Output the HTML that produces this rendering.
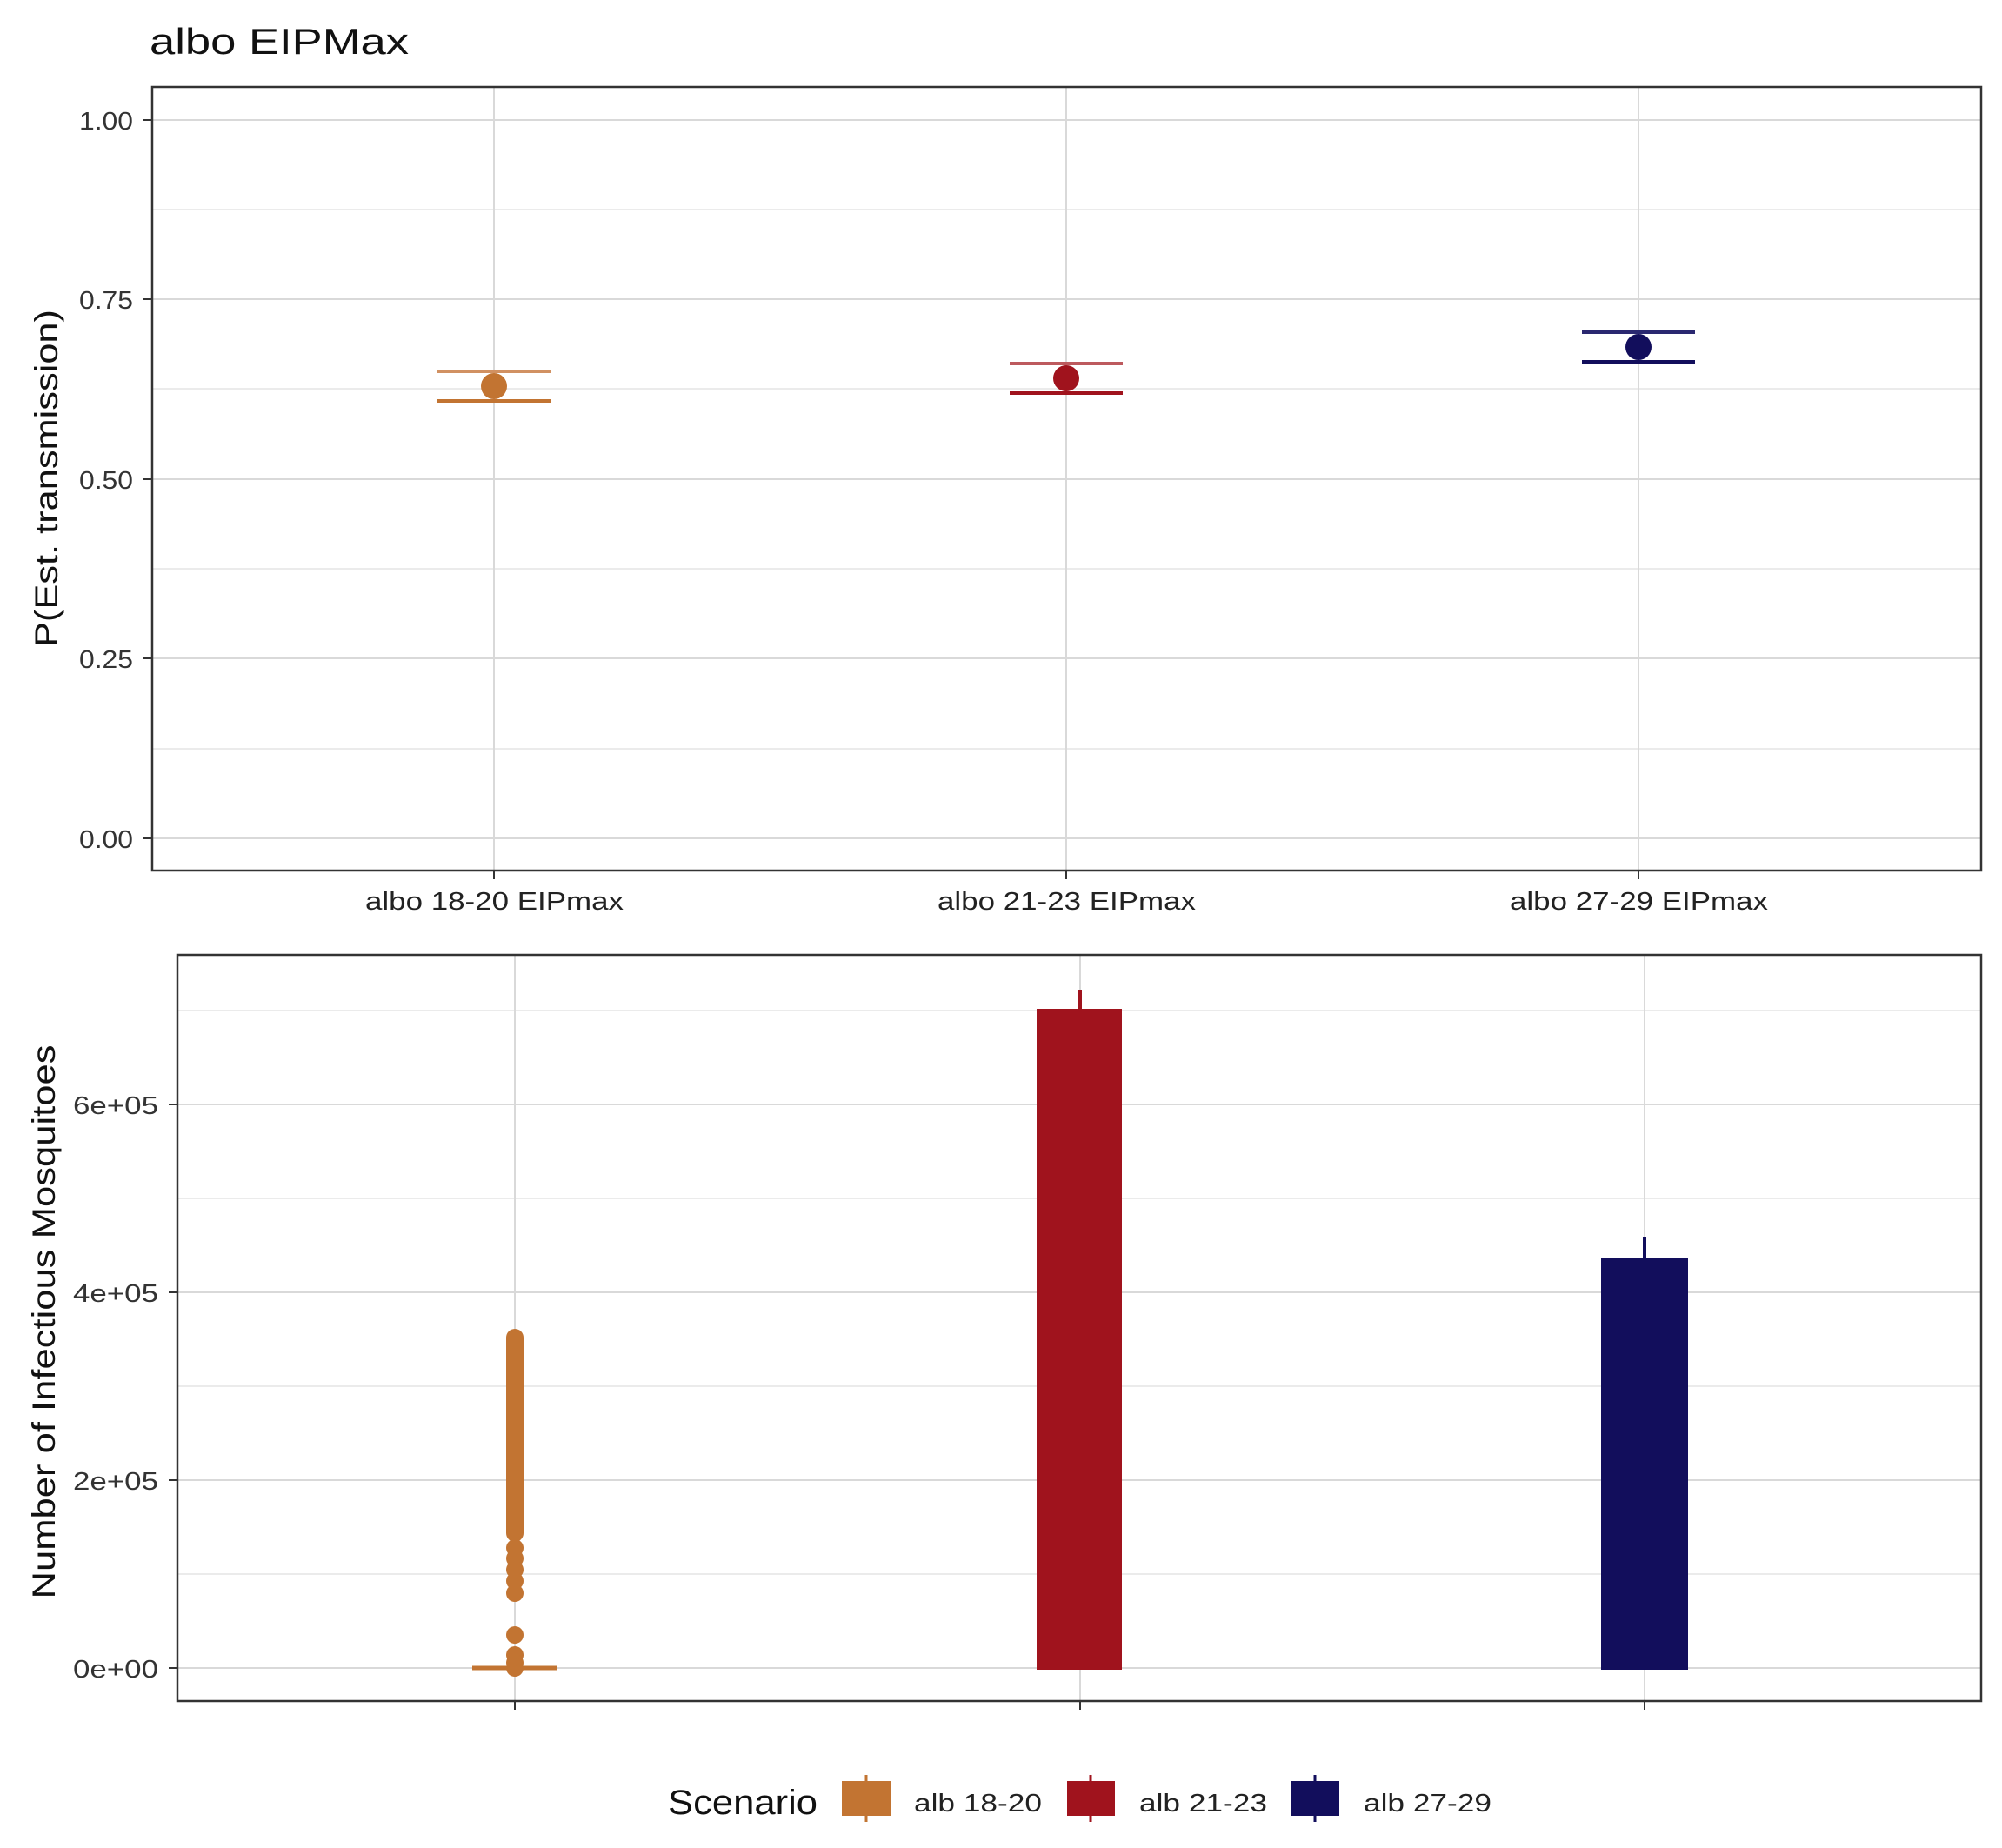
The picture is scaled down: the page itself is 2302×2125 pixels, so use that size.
<!DOCTYPE html>
<html><head><meta charset="utf-8"><style>html,body{margin:0;padding:0;background:#fff}svg{display:block}</style></head>
<body>
<svg width="2302" height="2125" viewBox="0 0 2302 2125" xmlns="http://www.w3.org/2000/svg" font-family="Liberation Sans, sans-serif">
<rect width="2302" height="2125" fill="#fff"/>
<text x="172" y="62" font-size="42" fill="#111" textLength="298" lengthAdjust="spacingAndGlyphs">albo EIPMax</text>

<!-- TOP PANEL -->
<g stroke="#ebebeb" stroke-width="2">
<line x1="175" x2="2278" y1="241" y2="241"/>
<line x1="175" x2="2278" y1="447" y2="447"/>
<line x1="175" x2="2278" y1="654" y2="654"/>
<line x1="175" x2="2278" y1="861" y2="861"/>
</g>
<g stroke="#d9d9d9" stroke-width="2">
<line x1="175" x2="2278" y1="138" y2="138"/>
<line x1="175" x2="2278" y1="344" y2="344"/>
<line x1="175" x2="2278" y1="551" y2="551"/>
<line x1="175" x2="2278" y1="757" y2="757"/>
<line x1="175" x2="2278" y1="964" y2="964"/>
<line x1="568" x2="568" y1="100" y2="1001"/>
<line x1="1226" x2="1226" y1="100" y2="1001"/>
<line x1="1884" x2="1884" y1="100" y2="1001"/>
</g>
<g stroke-width="4">
<line x1="502" x2="634" y1="427" y2="427" stroke="#d19162"/>
<line x1="502" x2="634" y1="461" y2="461" stroke="#c27432"/>
<line x1="1161" x2="1291" y1="418" y2="418" stroke="#bd5a5e"/>
<line x1="1161" x2="1291" y1="452" y2="452" stroke="#a0131d"/>
<line x1="1819" x2="1949" y1="382" y2="382" stroke="#2a2870"/>
<line x1="1819" x2="1949" y1="416" y2="416" stroke="#120e5c"/>
</g>
<ellipse cx="568" cy="444" rx="15" ry="15" fill="#c27432"/>
<ellipse cx="1226" cy="435" rx="15" ry="15" fill="#a0131d"/>
<ellipse cx="1884" cy="399" rx="15" ry="15" fill="#120e5c"/>
<rect x="175" y="100" width="2103" height="901" fill="none" stroke="#333" stroke-width="2.5"/>
<g stroke="#333" stroke-width="2">
<line x1="165" x2="175" y1="138" y2="138"/><line x1="165" x2="175" y1="344" y2="344"/>
<line x1="165" x2="175" y1="551" y2="551"/><line x1="165" x2="175" y1="757" y2="757"/>
<line x1="165" x2="175" y1="964" y2="964"/>
<line x1="568" x2="568" y1="1001" y2="1011"/><line x1="1226" x2="1226" y1="1001" y2="1011"/><line x1="1884" x2="1884" y1="1001" y2="1011"/>
</g>
<g font-size="29" fill="#333">
<text x="91" y="149" textLength="62" lengthAdjust="spacingAndGlyphs">1.00</text>
<text x="91" y="355" textLength="62" lengthAdjust="spacingAndGlyphs">0.75</text>
<text x="91" y="562" textLength="62" lengthAdjust="spacingAndGlyphs">0.50</text>
<text x="91" y="768" textLength="62" lengthAdjust="spacingAndGlyphs">0.25</text>
<text x="91" y="975" textLength="62" lengthAdjust="spacingAndGlyphs">0.00</text>
</g>
<g font-size="29" fill="#222">
<text x="420" y="1046" textLength="297" lengthAdjust="spacingAndGlyphs">albo 18-20 EIPmax</text>
<text x="1078" y="1046" textLength="297" lengthAdjust="spacingAndGlyphs">albo 21-23 EIPmax</text>
<text x="1736" y="1046" textLength="297" lengthAdjust="spacingAndGlyphs">albo 27-29 EIPmax</text>
</g>
<text transform="translate(66,550) rotate(-90)" font-size="37" fill="#111" text-anchor="middle" textLength="388" lengthAdjust="spacingAndGlyphs">P(Est. transmission)</text>

<!-- BOTTOM PANEL -->
<g stroke="#ebebeb" stroke-width="2">
<line x1="204" x2="2278" y1="1162" y2="1162"/>
<line x1="204" x2="2278" y1="1378" y2="1378"/>
<line x1="204" x2="2278" y1="1594" y2="1594"/>
<line x1="204" x2="2278" y1="1810" y2="1810"/>
</g>
<g stroke="#d9d9d9" stroke-width="2">
<line x1="204" x2="2278" y1="1270" y2="1270"/>
<line x1="204" x2="2278" y1="1486" y2="1486"/>
<line x1="204" x2="2278" y1="1702" y2="1702"/>
<line x1="204" x2="2278" y1="1918" y2="1918"/>
<line x1="592" x2="592" y1="1098" y2="1956"/>
<line x1="1242" x2="1242" y1="1098" y2="1956"/>
<line x1="1891" x2="1891" y1="1098" y2="1956"/>
</g>
<line x1="543" x2="641" y1="1918" y2="1918" stroke="#c27432" stroke-width="5"/>
<rect x="582" y="1528" width="20" height="245" rx="10" fill="#c27432"/>
<g fill="#c27432">
<circle cx="592" cy="1780" r="10"/><circle cx="592" cy="1792" r="10"/><circle cx="592" cy="1805" r="10"/>
<circle cx="592" cy="1818" r="10"/><circle cx="592" cy="1832" r="10"/><circle cx="592" cy="1880" r="10"/>
<circle cx="592" cy="1903" r="10"/><circle cx="592" cy="1912" r="10"/><circle cx="592" cy="1918" r="10"/>
</g>
<line x1="1242" x2="1242" y1="1138" y2="1160" stroke="#a0131d" stroke-width="4"/>
<rect x="1192" y="1160" width="98" height="760" fill="#a0131d"/>
<line x1="1891" x2="1891" y1="1422" y2="1446" stroke="#120e5c" stroke-width="4"/>
<rect x="1841" y="1446" width="100" height="474" fill="#120e5c"/>
<rect x="204" y="1098" width="2074" height="858" fill="none" stroke="#333" stroke-width="2.5"/>
<g stroke="#333" stroke-width="2">
<line x1="194" x2="204" y1="1270" y2="1270"/><line x1="194" x2="204" y1="1486" y2="1486"/>
<line x1="194" x2="204" y1="1702" y2="1702"/><line x1="194" x2="204" y1="1918" y2="1918"/>
<line x1="592" x2="592" y1="1956" y2="1966"/><line x1="1242" x2="1242" y1="1956" y2="1966"/><line x1="1891" x2="1891" y1="1956" y2="1966"/>
</g>
<g font-size="29" fill="#333">
<text x="84" y="1281" textLength="98" lengthAdjust="spacingAndGlyphs">6e+05</text>
<text x="84" y="1497" textLength="98" lengthAdjust="spacingAndGlyphs">4e+05</text>
<text x="84" y="1713" textLength="98" lengthAdjust="spacingAndGlyphs">2e+05</text>
<text x="84" y="1929" textLength="98" lengthAdjust="spacingAndGlyphs">0e+00</text>
</g>
<text transform="translate(63,1520) rotate(-90)" font-size="37" fill="#111" text-anchor="middle" textLength="637" lengthAdjust="spacingAndGlyphs">Number of Infectious Mosquitoes</text>

<!-- LEGEND -->
<text x="768" y="2086" font-size="40" fill="#111" textLength="172" lengthAdjust="spacingAndGlyphs">Scenario</text>
<line x1="996" x2="996" y1="2041" y2="2095" stroke="#c27432" stroke-width="3"/>
<rect x="968" y="2048" width="56" height="40" fill="#c27432"/>
<text x="1051" y="2083" font-size="29" fill="#222" textLength="147" lengthAdjust="spacingAndGlyphs">alb 18-20</text>
<line x1="1254" x2="1254" y1="2041" y2="2095" stroke="#a0131d" stroke-width="3"/>
<rect x="1227" y="2048" width="55" height="40" fill="#a0131d"/>
<text x="1310" y="2083" font-size="29" fill="#222" textLength="147" lengthAdjust="spacingAndGlyphs">alb 21-23</text>
<line x1="1512" x2="1512" y1="2041" y2="2095" stroke="#120e5c" stroke-width="3"/>
<rect x="1484" y="2048" width="56" height="40" fill="#120e5c"/>
<text x="1568" y="2083" font-size="29" fill="#222" textLength="147" lengthAdjust="spacingAndGlyphs">alb 27-29</text>
</svg>
</body></html>
